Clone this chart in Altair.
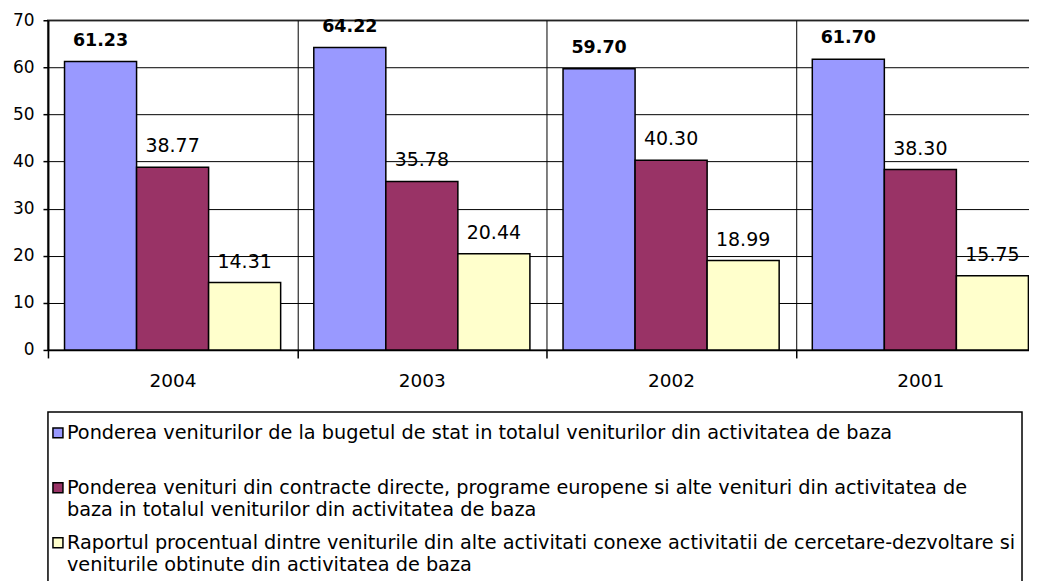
import altair as alt
import pandas as pd

years = ["2004", "2003", "2002", "2001"]
series_names = [
    "Ponderea veniturilor de la bugetul de stat in totalul veniturilor din activitatea de baza",
    "Ponderea venituri din contracte directe, programe europene si alte venituri din activitatea de baza in totalul veniturilor din activitatea de baza",
    "Raportul procentual dintre veniturile din alte activitati conexe activitatii de cercetare-dezvoltare si veniturile obtinute din activitatea de baza",
]
buget = [61.23, 64.22, 59.70, 61.70]
contracte = [38.77, 35.78, 40.30, 38.30]
conexe = [14.31, 20.44, 18.99, 15.75]
colors = ["#9999FF", "#993366", "#FFFFCC"]
legend_lines = [
    ["Ponderea veniturilor de la bugetul de stat in totalul veniturilor din activitatea de baza", ""],
    ["Ponderea venituri din contracte directe, programe europene si alte venituri din activitatea de",
     "baza in totalul veniturilor din activitatea de baza"],
    ["Raportul procentual dintre veniturile din alte activitati conexe activitatii de cercetare-dezvoltare si",
     "veniturile obtinute din activitatea de baza"],
]

FONT = "DejaVu Sans"

rows = []
for s_name, vals in zip(series_names, [buget, contracte, conexe]):
    for y, v in zip(years, vals):
        rows.append({"year": y, "series": s_name, "value": v, "label": f"{v:.2f}"})
df = pd.DataFrame(rows)

base = alt.Chart(df).encode(
    x=alt.X(
        "year:N", sort=years,
        scale=alt.Scale(paddingInner=0, paddingOuter=0),
        axis=alt.Axis(title=None, labelAngle=0, tickBand="extent", tickSize=8, labelPadding=14,
                      grid=True, gridColor="black", gridWidth=1, domainColor="black", domainWidth=1.5,
                      tickColor="black", tickWidth=1.5, labelFontSize=18.5, labelFont=FONT,
                      labelColor="black"),
    ),
    xOffset=alt.XOffset("series:N", sort=series_names,
                        scale=alt.Scale(paddingInner=0, paddingOuter=0.23)),
    y=alt.Y("value:Q", scale=alt.Scale(domain=[0, 70], nice=False),
            axis=alt.Axis(title=None, values=list(range(0, 71, 10)), tickSize=5, labelPadding=9,
                          grid=True, gridColor="black", gridWidth=1, domainColor="black", domainWidth=2,
                          tickColor="black", tickWidth=1.5, labelFontSize=17, labelFont=FONT,
                          labelColor="black")),
)

bars = base.mark_bar(stroke="black", strokeWidth=1.5).encode(
    color=alt.Color("series:N", scale=alt.Scale(domain=series_names, range=colors), legend=None)
)
lab_bold = base.transform_filter(alt.datum.series == series_names[0]).mark_text(
    font=FONT, fontSize=17.5, fontWeight="bold", dy=-21, baseline="middle", color="black"
).encode(text="label:N")
lab_norm = base.transform_filter(alt.datum.series != series_names[0]).mark_text(
    font=FONT, fontSize=19, dy=-21, baseline="middle", color="black"
).encode(text="label:N")

bar_chart = alt.layer(bars, lab_bold, lab_norm).properties(
    width=998, height=330,
    view=alt.ViewBackground(stroke="#808080", strokeWidth=2),
)

leg_rows = []
for i, (name, lines) in enumerate(zip(series_names, legend_lines)):
    for j, t in enumerate(lines):
        leg_rows.append({"entry": i, "line": j, "text": t, "series": name})
legdf = pd.DataFrame(leg_rows)
symdf = legdf[legdf["line"] == 0]

yenc = alt.Y("entry:O", axis=None,
             scale=alt.Scale(type="band", paddingInner=0, paddingOuter=0.209, align=0.196))
yoff = alt.YOffset("line:O", scale=alt.Scale(type="band", domain=[0, 1], paddingInner=0, paddingOuter=0.25))

leg_text = alt.Chart(legdf).mark_text(
    align="left", baseline="middle", font=FONT, fontSize=19.3, color="black"
).encode(x=alt.value(19), y=yenc, yOffset=yoff, text="text:N")
leg_sym = alt.Chart(symdf).mark_square(size=100, stroke="black", strokeWidth=1.5, opacity=1).encode(
    x=alt.value(10), y=yenc, yOffset=yoff,
    color=alt.Color("series:N", scale=alt.Scale(domain=series_names, range=colors), legend=None),
)
legend_chart = alt.layer(leg_sym, leg_text).properties(
    width=975, height=188,
    view=alt.ViewBackground(stroke="black", strokeWidth=1.5),
)

chart = alt.vconcat(bar_chart, legend_chart, spacing=19).properties(
    padding={"top": 2, "left": 3, "right": -18, "bottom": -20}
).configure(font=FONT).resolve_scale(color="shared")

chart.save("out.html", embed_options={"renderer": "svg", "actions": False})
